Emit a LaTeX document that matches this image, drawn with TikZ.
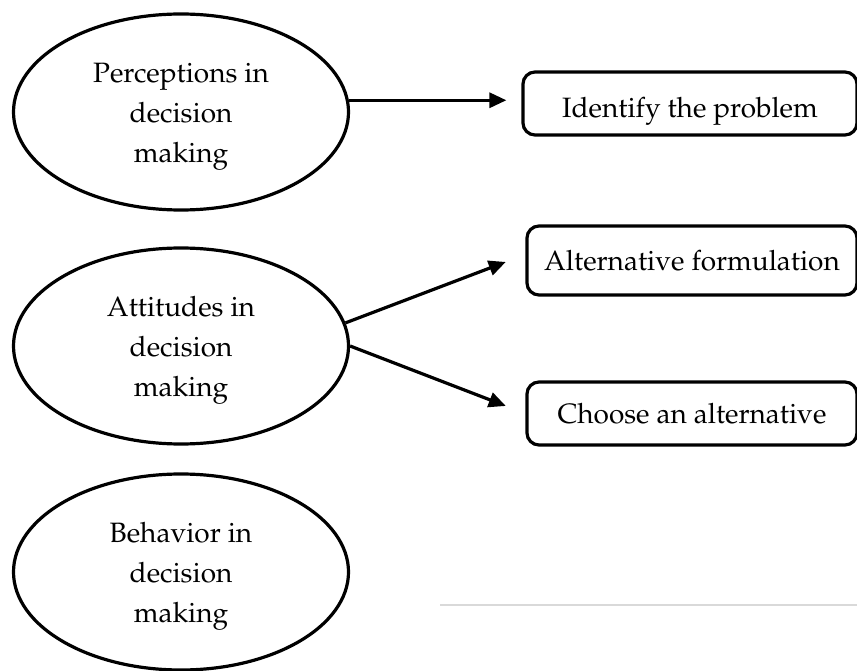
\documentclass[tikz,border=0pt]{standalone}
\usepackage[T1]{fontenc}
\usepackage{mathpazo}
\usetikzlibrary{shapes.geometric, calc, arrows.meta}

\begin{document}
\begin{tikzpicture}
    [x=1pt, y=-1pt,
    esty/.style={ellipse, draw, line width=3.2pt, minimum width=335pt, minimum height=196pt, inner sep=0pt, align=center, font=\fontsize{28}{40}\selectfont},
    bsty/.style={draw, rounded corners=12pt, line width=3.2pt, minimum width=330pt, minimum height=63pt, inner sep=0pt, font=\fontsize{28}{34}\selectfont},
    asty/.style={-{Triangle[length=17pt, width=15pt]}, line width=3.2pt}]
    \useasboundingbox (0,0) rectangle (857,671);
    % nodes
    \node[esty, text height=108pt] (perc) at (181,112) {Perceptions in\\decision\\making};
    \node[esty, text height=108pt] (att)  at (181,346) {Attitudes in\\decision\\making};
    \node[esty, text height=108pt] (beh)  at (181,572) {Behavior in\\decision\\making};
    \node[bsty, minimum width=334pt, text height=36pt] (idp) at (690,103.5) {Identify the problem};
    \node[bsty, minimum height=69pt] (alt) at (692,260.5) {Alternative formulation};
    \node[bsty] (cho) at (692,413.5) {Choose an alternative};
    % vertices
    \draw[asty, shorten >=15pt] (perc.4) -- (perc.4 -| idp.west);
    \draw[asty, shorten >=21pt] (att.8) -- ($(alt.west)+(0,-6)$);
    \draw[asty, shorten >=21pt] (att.east) -- (cho.west);
    % rule
    \draw[black!15, line width=2pt] (440,605) -- (857,605);
\end{tikzpicture}
\end{document}
